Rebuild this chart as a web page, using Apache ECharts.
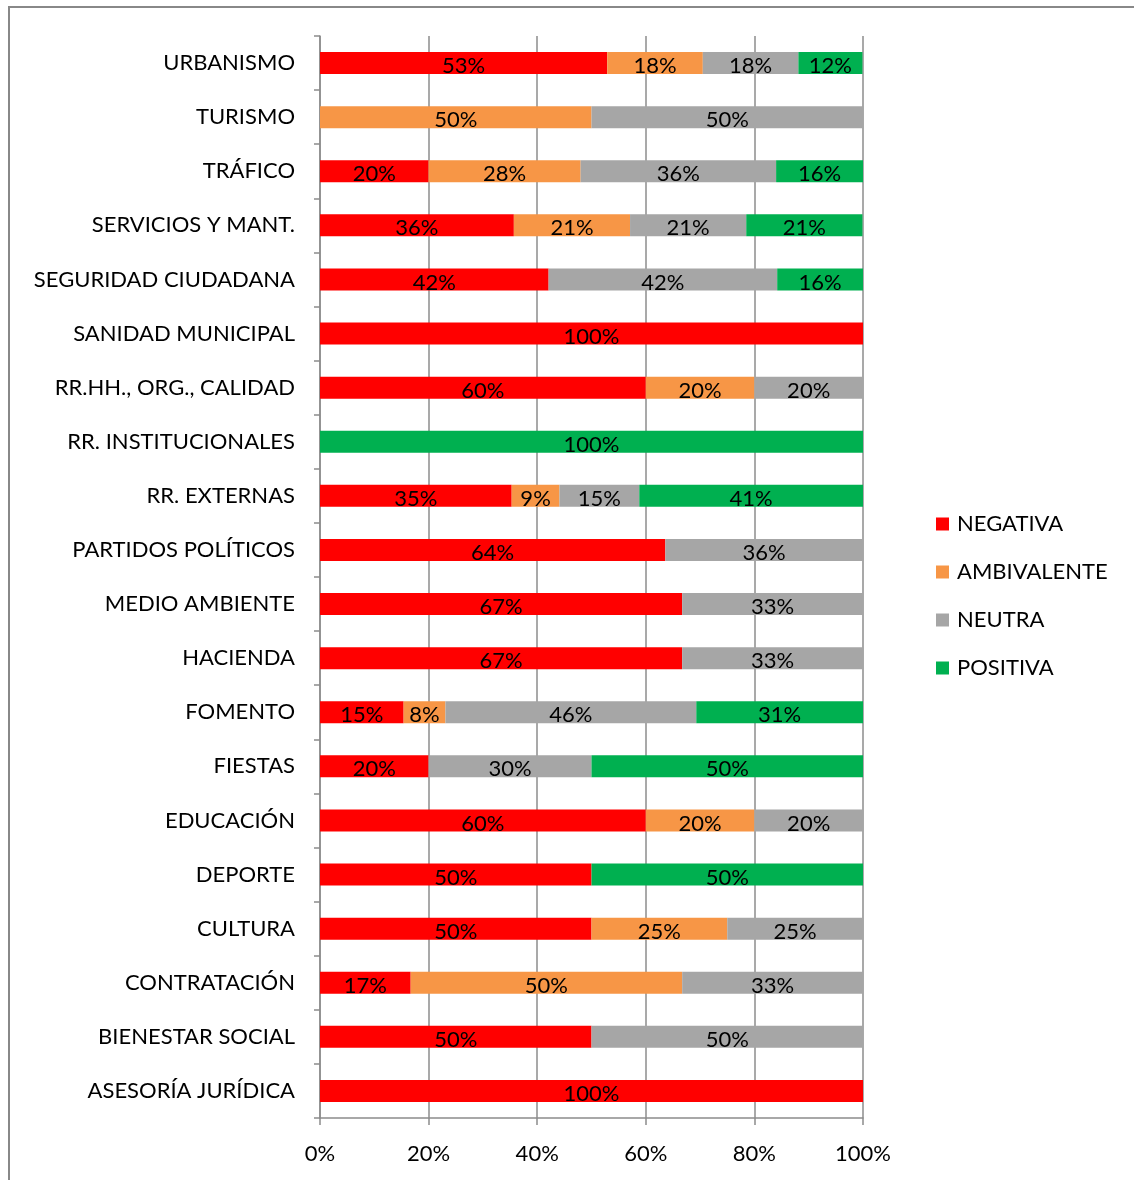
<!DOCTYPE html>
<html>
<head>
<meta charset="utf-8">
<script src="https://cdn.jsdelivr.net/npm/echarts@6/dist/echarts.min.js"></script>
<style>
  html, body { margin: 0; padding: 0; background: #fff; }
  #chart { width: 1134px; height: 1180px; }
</style>
</head>
<body>
<div id="chart"></div>
<script>
// categorías (de arriba a abajo)
const categorias = [
  'URBANISMO', 'TURISMO', 'TRÁFICO', 'SERVICIOS Y MANT.', 'SEGURIDAD CIUDADANA',
  'SANIDAD MUNICIPAL', 'RR.HH., ORG., CALIDAD', 'RR. INSTITUCIONALES', 'RR. EXTERNAS',
  'PARTIDOS POLÍTICOS', 'MEDIO AMBIENTE', 'HACIENDA', 'FOMENTO', 'FIESTAS',
  'EDUCACIÓN', 'DEPORTE', 'CULTURA', 'CONTRATACIÓN', 'BIENESTAR SOCIAL', 'ASESORÍA JURÍDICA'
];
const negativa    = [52.9, 0, 20, 35.7, 42.1, 100, 60, 0, 35.3, 63.6, 66.7, 66.7, 15.4, 20, 60, 50, 50, 16.7, 50, 100];
const ambivalente = [17.6, 50, 28, 21.4, 0, 0, 20, 0, 8.8, 0, 0, 0, 7.7, 0, 20, 0, 25, 50, 0, 0];
const neutra      = [17.6, 50, 36, 21.4, 42.1, 0, 20, 0, 14.7, 36.4, 33.3, 33.3, 46.2, 30, 20, 0, 25, 33.3, 50, 0];
const positiva    = [11.8, 0, 16, 21.4, 15.8, 0, 0, 100, 41.2, 0, 0, 0, 30.8, 50, 0, 50, 0, 0, 0, 0];
const ticks = [0, 20, 40, 60, 80, 100];

const fuente = 'Lato, "Open Sans", sans-serif';
const chart = echarts.init(document.getElementById('chart'));

const serie = (name, data, color) => ({
  name: name,
  type: 'bar',
  stack: 'total',
  data: data,
  barWidth: 22,
  itemStyle: { color: color },
  label: {
    show: true,
    position: 'inside',
    offset: [0, 3],
    color: '#000',
    fontSize: 22,
    fontFamily: fuente,
    formatter: p => p.value ? Math.round(p.value) + '%' : ''
  }
});

const option = {
  animation: false,
  graphic: [{
    type: 'rect',
    shape: { x: 9, y: 7, width: 1140, height: 1190 },
    style: { fill: 'none', stroke: '#888', lineWidth: 2 }
  }],
  grid: { left: 320, right: 271, top: 36, bottom: 62 },
  legend: {
    orient: 'vertical',
    left: 936,
    top: 513,
    padding: 0,
    itemWidth: 13,
    itemHeight: 13,
    itemGap: 26,
    icon: 'rect',
    textStyle: { fontSize: 22, color: '#000', fontFamily: fuente, padding: [0, 0, 0, 3] },
    data: ['NEGATIVA', 'AMBIVALENTE', 'NEUTRA', 'POSITIVA']
  },
  xAxis: {
    type: 'value',
    min: 0,
    max: 100,
    interval: 20,
    axisLine: { show: true, lineStyle: { color: '#8c8c8c', width: 1.5 } },
    axisTick: { show: true, length: 7, lineStyle: { color: '#8c8c8c', width: 1.5 } },
    splitLine: { show: true, lineStyle: { color: '#8c8c8c', width: 1.5 } },
    axisLabel: {
      margin: 25,
      fontSize: 22,
      color: '#000',
      fontFamily: fuente,
      formatter: v => ticks.includes(v) ? v + '%' : ''
    }
  },
  yAxis: {
    type: 'category',
    inverse: true,
    data: categorias,
    axisLine: { show: true, lineStyle: { color: '#8c8c8c', width: 1.5 } },
    axisTick: { show: true, length: 6, lineStyle: { color: '#8c8c8c', width: 1.5 } },
    axisLabel: { margin: 25, fontSize: 22, color: '#000', fontFamily: fuente }
  },
  series: [
    serie('NEGATIVA', negativa, '#ff0000'),
    serie('AMBIVALENTE', ambivalente, '#f79646'),
    serie('NEUTRA', neutra, '#a6a6a6'),
    serie('POSITIVA', positiva, '#00b050')
  ]
};

chart.setOption(option);
</script>
</body>
</html>
